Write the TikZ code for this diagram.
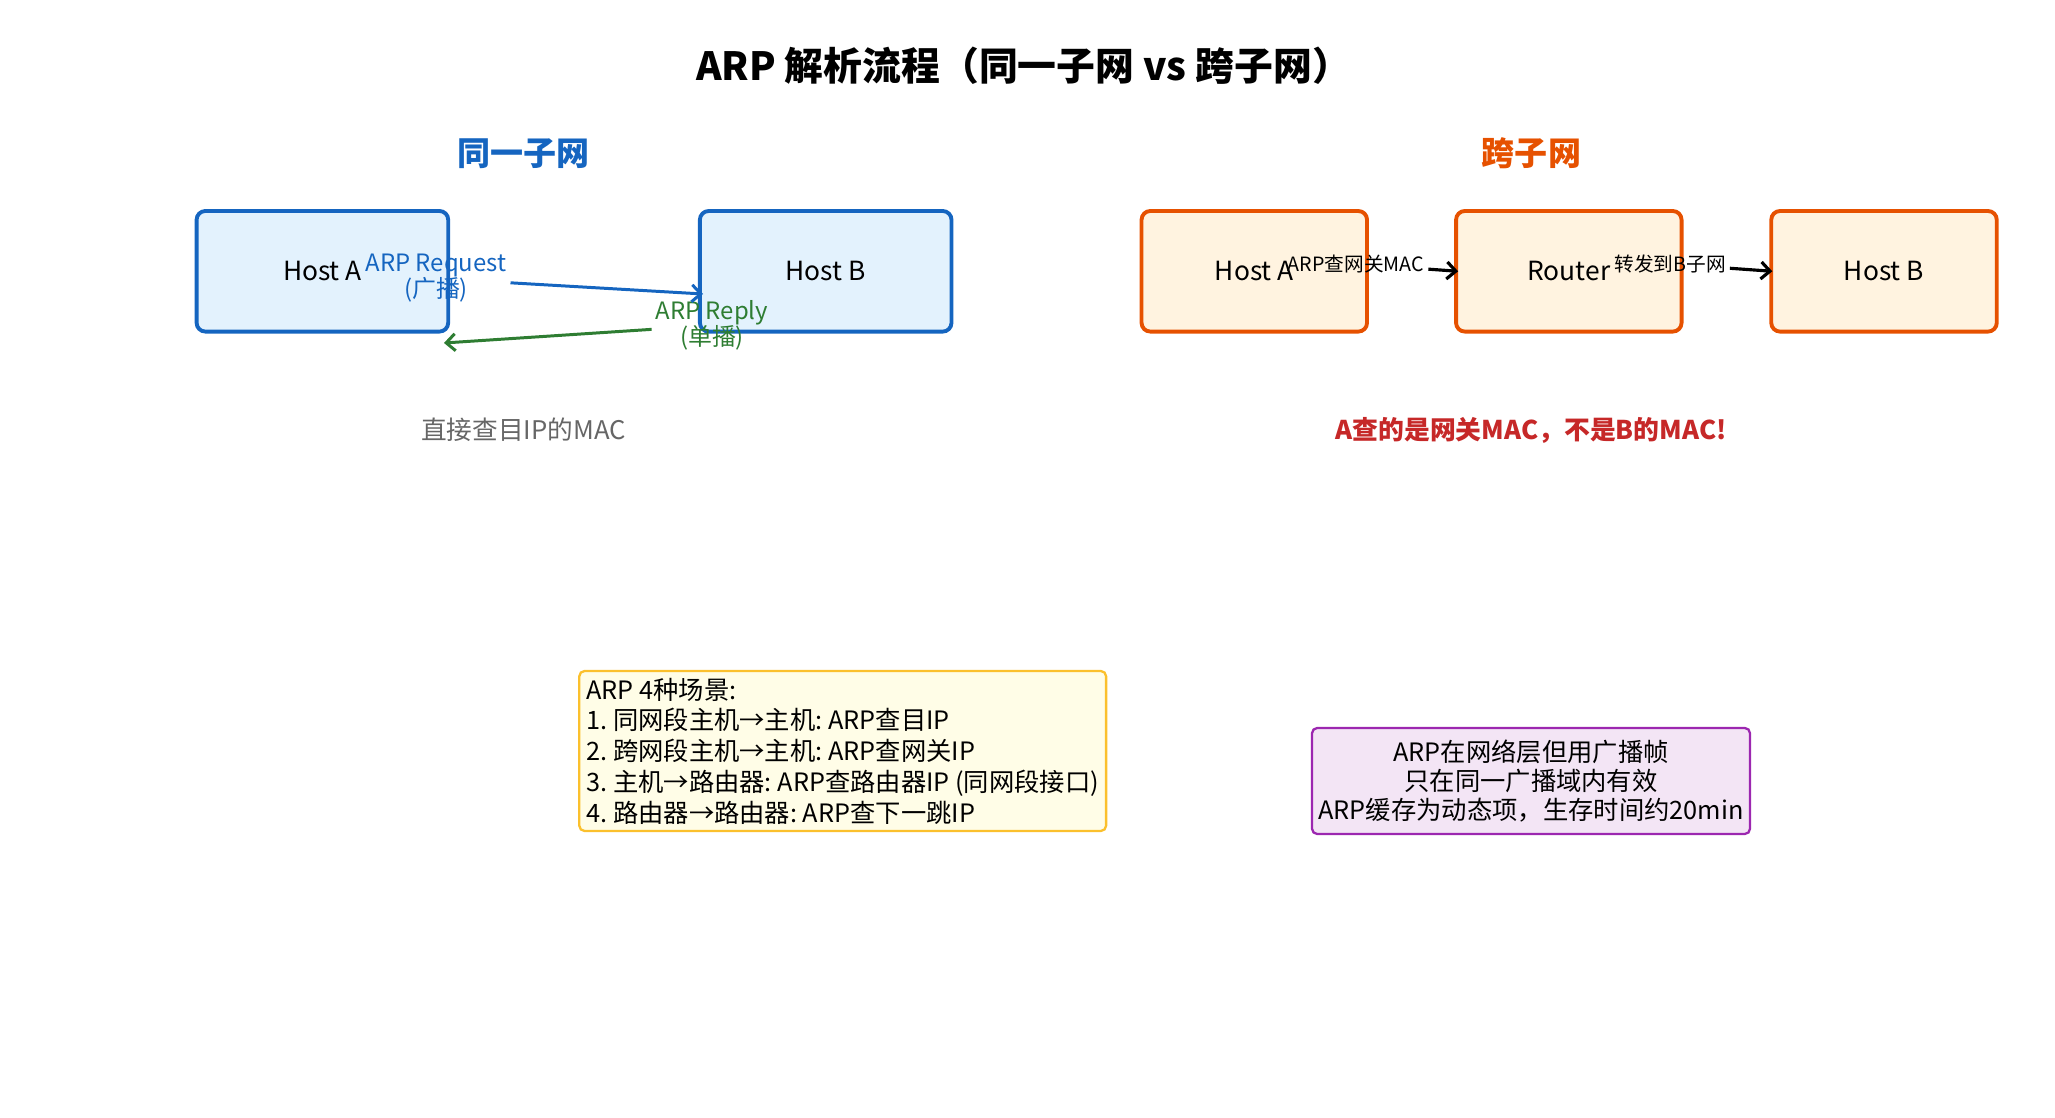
\documentclass[tikz,border=0pt]{standalone}
\usepackage{fontspec}
\setmainfont{Noto Sans CJK SC}
\usepackage{xcolor}
\usepackage{tikz}
\usetikzlibrary{arrows.meta, positioning}
\frenchspacing

\definecolor{sameblue}{HTML}{1565C0}
\definecolor{samefill}{HTML}{E3F2FD}
\definecolor{crossorange}{HTML}{E65100}
\definecolor{crossfill}{HTML}{FFF3E0}
\definecolor{replygreen}{HTML}{2E7D32}
\definecolor{warnred}{HTML}{C62828}
\definecolor{noteyellow}{HTML}{FBC02D}
\definecolor{noteyfill}{HTML}{FFFDE7}
\definecolor{notepurple}{HTML}{9C27B0}
\definecolor{notepfill}{HTML}{F3E5F5}

\begin{document}
\begin{tikzpicture}[
    samehost/.style={rectangle, rounded corners=2.5pt, draw=sameblue, fill=samefill, line width=1.1pt, minimum width=2.516cm, minimum height=1.206cm, font=\fontsize{7.5}{9}\selectfont},
    crosshost/.style={rectangle, rounded corners=2.5pt, draw=crossorange, fill=crossfill, line width=1.1pt, minimum width=2.255cm, minimum height=1.206cm, font=\fontsize{7.5}{9}\selectfont},
    heading/.style={font=\fontsize{9.4}{11}\selectfont\bfseries},
    msglabel/.style={align=center, inner sep=1pt, font=\fontsize{6.8}{7.4}\selectfont},
    steplabel/.style={inner sep=1pt, font=\fontsize{5.6}{6.5}\selectfont},
    notebox/.style={rectangle, rounded corners=1.5pt, line width=0.65pt, font=\fontsize{7.2}{8.75}\selectfont},
    >={Straight Barb[length=0.9mm, width=1.7mm]}
]
\useasboundingbox (0,0) rectangle (20.55,-11.18);

% Title
\node[font=\fontsize{11.05}{13}\selectfont\bfseries] (title) at (10.235,-0.655) {ARP 解析流程（同一子网 vs 跨子网）};

% Same subnet
\node[heading, text=sameblue] (samehead) at (5.236,-1.533) {同一子网};
\node[samehost] (sha) at (3.224,-2.713) {Host A};
\node[samehost] (shb) at (8.257,-2.713) {Host B};

\node[msglabel, text=sameblue] (req) at (4.36,-2.785) {ARP Request\\(广播)};
\node[msglabel, text=replygreen] (rep) at (7.12,-3.254) {ARP Reply\\(单播)};
\coordinate (reqtip) at (7.03,-2.94);
\coordinate (reptip) at (4.44,-3.43);
\draw[->, sameblue, line width=0.85pt] (req) -- (reqtip);
\draw[->, replygreen, line width=0.85pt] (rep) -- (reptip);

\node[font=\fontsize{7.3}{9}\selectfont, text=black!60] (samenote) at (5.236,-4.30) {直接查目IP的MAC};

% Cross subnet
\node[heading, text=crossorange] (crosshead) at (15.315,-1.533) {跨子网};
\node[crosshost] (cha) at (12.543,-2.713) {Host A};
\node[crosshost] (rtr) at (15.688,-2.713) {Router};
\node[crosshost] (chb) at (18.840,-2.713) {Host B};

\node[steplabel] (gwq) at (13.56,-2.64) {ARP查网关MAC};
\node[steplabel] (fwd) at (16.70,-2.64) {转发到B子网};
\draw[->, line width=0.9pt] (gwq) -- ([xshift=0.04cm]rtr.west);
\draw[->, line width=0.9pt] (fwd) -- ([xshift=0.03cm]chb.west);

\node[font=\fontsize{7.35}{9}\selectfont\bfseries, text=warnred] (crossnote) at (15.31,-4.30) {A查的是网关MAC，不是B的MAC!};

% Notes
\node[notebox, draw=noteyellow, fill=noteyfill, align=left, inner xsep=0.07cm, inner ysep=1.5pt, minimum width=5.268cm, minimum height=1.60cm] (cases) at (8.427,-7.51) {ARP 4种场景:\\1. 同网段主机→主机: ARP查目IP\\2. 跨网段主机→主机: ARP查网关IP\\3. 主机→路由器: ARP查路由器IP (同网段接口)\\4. 路由器→路由器: ARP查下一跳IP};
\node[notebox, draw=notepurple, fill=notepfill, align=center, inner xsep=0.05cm, minimum width=4.38cm, minimum height=1.0cm, font=\fontsize{7.2}{8.3}\selectfont] (scope) at (15.31,-7.81) {ARP在网络层但用广播帧\\只在同一广播域内有效\\ARP缓存为动态项，生存时间约20min};

\end{tikzpicture}
\end{document}
